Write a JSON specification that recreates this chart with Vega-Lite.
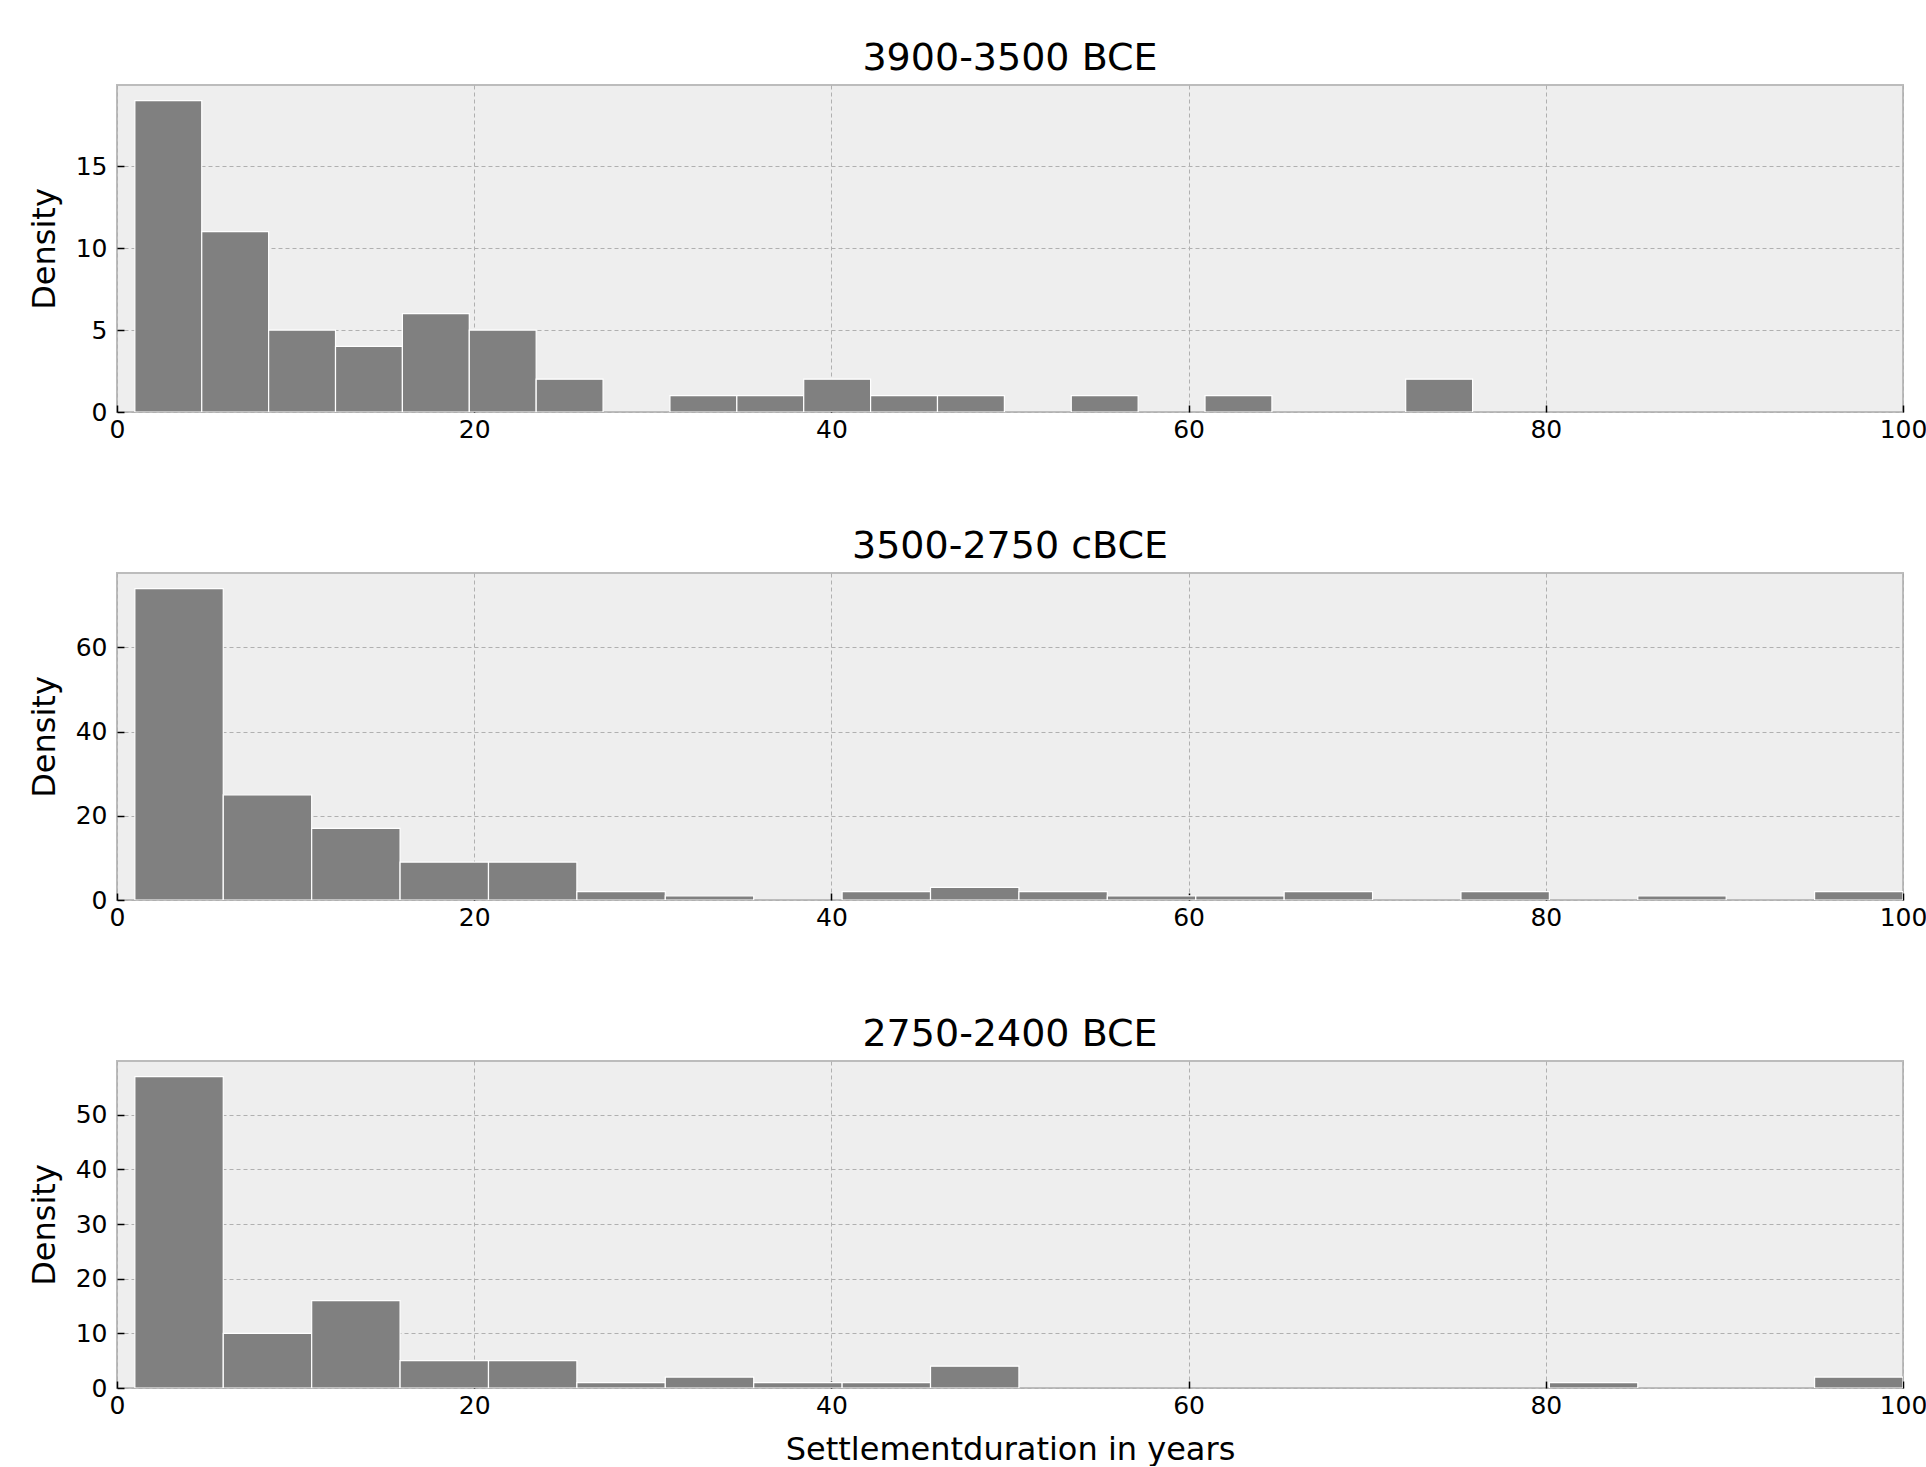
{
  "$schema": "https://vega.github.io/schema/vega-lite/v6.json",
  "background": "white",
  "padding": {"left": 27, "top": 39, "right": 0, "bottom": 0},
  "spacing": 84,
  "datasets": {
    "hist": [
      {"period": "3900-3500 BCE", "bin_start": 1.0, "bin_end": 4.745, "count": 19},
      {"period": "3900-3500 BCE", "bin_start": 4.745, "bin_end": 8.49, "count": 11},
      {"period": "3900-3500 BCE", "bin_start": 8.49, "bin_end": 12.235, "count": 5},
      {"period": "3900-3500 BCE", "bin_start": 12.235, "bin_end": 15.98, "count": 4},
      {"period": "3900-3500 BCE", "bin_start": 15.98, "bin_end": 19.725, "count": 6},
      {"period": "3900-3500 BCE", "bin_start": 19.725, "bin_end": 23.47, "count": 5},
      {"period": "3900-3500 BCE", "bin_start": 23.47, "bin_end": 27.215, "count": 2},
      {"period": "3900-3500 BCE", "bin_start": 30.96, "bin_end": 34.705, "count": 1},
      {"period": "3900-3500 BCE", "bin_start": 34.705, "bin_end": 38.45, "count": 1},
      {"period": "3900-3500 BCE", "bin_start": 38.45, "bin_end": 42.195, "count": 2},
      {"period": "3900-3500 BCE", "bin_start": 42.195, "bin_end": 45.94, "count": 1},
      {"period": "3900-3500 BCE", "bin_start": 45.94, "bin_end": 49.685, "count": 1},
      {"period": "3900-3500 BCE", "bin_start": 53.43, "bin_end": 57.175, "count": 1},
      {"period": "3900-3500 BCE", "bin_start": 60.92, "bin_end": 64.665, "count": 1},
      {"period": "3900-3500 BCE", "bin_start": 72.155, "bin_end": 75.9, "count": 2},

      {"period": "3500-2750 cBCE", "bin_start": 1.0, "bin_end": 5.95, "count": 74},
      {"period": "3500-2750 cBCE", "bin_start": 5.95, "bin_end": 10.9, "count": 25},
      {"period": "3500-2750 cBCE", "bin_start": 10.9, "bin_end": 15.85, "count": 17},
      {"period": "3500-2750 cBCE", "bin_start": 15.85, "bin_end": 20.8, "count": 9},
      {"period": "3500-2750 cBCE", "bin_start": 20.8, "bin_end": 25.75, "count": 9},
      {"period": "3500-2750 cBCE", "bin_start": 25.75, "bin_end": 30.7, "count": 2},
      {"period": "3500-2750 cBCE", "bin_start": 30.7, "bin_end": 35.65, "count": 1},
      {"period": "3500-2750 cBCE", "bin_start": 40.6, "bin_end": 45.55, "count": 2},
      {"period": "3500-2750 cBCE", "bin_start": 45.55, "bin_end": 50.5, "count": 3},
      {"period": "3500-2750 cBCE", "bin_start": 50.5, "bin_end": 55.45, "count": 2},
      {"period": "3500-2750 cBCE", "bin_start": 55.45, "bin_end": 60.4, "count": 1},
      {"period": "3500-2750 cBCE", "bin_start": 60.4, "bin_end": 65.35, "count": 1},
      {"period": "3500-2750 cBCE", "bin_start": 65.35, "bin_end": 70.3, "count": 2},
      {"period": "3500-2750 cBCE", "bin_start": 75.25, "bin_end": 80.2, "count": 2},
      {"period": "3500-2750 cBCE", "bin_start": 85.15, "bin_end": 90.1, "count": 1},
      {"period": "3500-2750 cBCE", "bin_start": 95.05, "bin_end": 100.0, "count": 2},

      {"period": "2750-2400 BCE", "bin_start": 1.0, "bin_end": 5.95, "count": 57},
      {"period": "2750-2400 BCE", "bin_start": 5.95, "bin_end": 10.9, "count": 10},
      {"period": "2750-2400 BCE", "bin_start": 10.9, "bin_end": 15.85, "count": 16},
      {"period": "2750-2400 BCE", "bin_start": 15.85, "bin_end": 20.8, "count": 5},
      {"period": "2750-2400 BCE", "bin_start": 20.8, "bin_end": 25.75, "count": 5},
      {"period": "2750-2400 BCE", "bin_start": 25.75, "bin_end": 30.7, "count": 1},
      {"period": "2750-2400 BCE", "bin_start": 30.7, "bin_end": 35.65, "count": 2},
      {"period": "2750-2400 BCE", "bin_start": 35.65, "bin_end": 40.6, "count": 1},
      {"period": "2750-2400 BCE", "bin_start": 40.6, "bin_end": 45.55, "count": 1},
      {"period": "2750-2400 BCE", "bin_start": 45.55, "bin_end": 50.5, "count": 4},
      {"period": "2750-2400 BCE", "bin_start": 80.2, "bin_end": 85.15, "count": 1},
      {"period": "2750-2400 BCE", "bin_start": 95.05, "bin_end": 100.0, "count": 2}
    ]
  },
  "config": {
    "font": "DejaVu Sans",
    "view": {"fill": "#eeeeee", "stroke": "#bcbcbc", "strokeWidth": 2},
    "axis": {
      "domain": false,
      "grid": true,
      "gridColor": "#b0b0b0",
      "gridDash": [4, 3],
      "gridWidth": 1,
      "tickColor": "black",
      "tickSize": -7,
      "tickWidth": 1.5,
      "labelFontSize": 25,
      "labelColor": "black",
      "titleFontSize": 32,
      "titleFontWeight": "normal",
      "titleColor": "black"
    },
    "title": {"fontSize": 38, "fontWeight": "normal", "color": "black", "anchor": "middle", "baseline": "alphabetic", "offset": 7}
  },
  "vconcat": [
    {
      "title": "3900-3500 BCE",
      "width": 1786,
      "height": 327,
      "data": {"name": "hist"},
      "transform": [{"filter": "datum.period === '3900-3500 BCE'"}],
      "mark": {"type": "rect", "fill": "#808080", "stroke": "white", "strokeWidth": 1.2, "clip": true},
      "encoding": {
        "x": {"field": "bin_start", "type": "quantitative", "scale": {"domain": [0, 100], "nice": false}, "axis": {"title": null, "values": [0, 20, 40, 60, 80, 100], "labelPadding": 12, "labelFlush": false}},
        "x2": {"field": "bin_end"},
        "y": {"field": "count", "type": "quantitative", "scale": {"domain": [0, 19.95], "nice": false}, "axis": {"title": "Density", "values": [0, 5, 10, 15], "labelPadding": 17, "titlePadding": 14}}
      }
    },
    {
      "title": "3500-2750 cBCE",
      "width": 1786,
      "height": 327,
      "data": {"name": "hist"},
      "transform": [{"filter": "datum.period === '3500-2750 cBCE'"}],
      "mark": {"type": "rect", "fill": "#808080", "stroke": "white", "strokeWidth": 1.2, "clip": true},
      "encoding": {
        "x": {"field": "bin_start", "type": "quantitative", "scale": {"domain": [0, 100], "nice": false}, "axis": {"title": null, "values": [0, 20, 40, 60, 80, 100], "labelPadding": 12, "labelFlush": false}},
        "x2": {"field": "bin_end"},
        "y": {"field": "count", "type": "quantitative", "scale": {"domain": [0, 77.7], "nice": false}, "axis": {"title": "Density", "values": [0, 20, 40, 60], "labelPadding": 17, "titlePadding": 14}}
      }
    },
    {
      "title": "2750-2400 BCE",
      "width": 1786,
      "height": 327,
      "data": {"name": "hist"},
      "transform": [{"filter": "datum.period === '2750-2400 BCE'"}],
      "mark": {"type": "rect", "fill": "#808080", "stroke": "white", "strokeWidth": 1.2, "clip": true},
      "encoding": {
        "x": {"field": "bin_start", "type": "quantitative", "scale": {"domain": [0, 100], "nice": false}, "axis": {"title": "Settlementduration in years", "values": [0, 20, 40, 60, 80, 100], "labelPadding": 12, "labelFlush": false, "titlePadding": 16}},
        "x2": {"field": "bin_end"},
        "y": {"field": "count", "type": "quantitative", "scale": {"domain": [0, 59.85], "nice": false}, "axis": {"title": "Density", "values": [0, 10, 20, 30, 40, 50], "labelPadding": 17, "titlePadding": 14}}
      }
    }
  ]
}
